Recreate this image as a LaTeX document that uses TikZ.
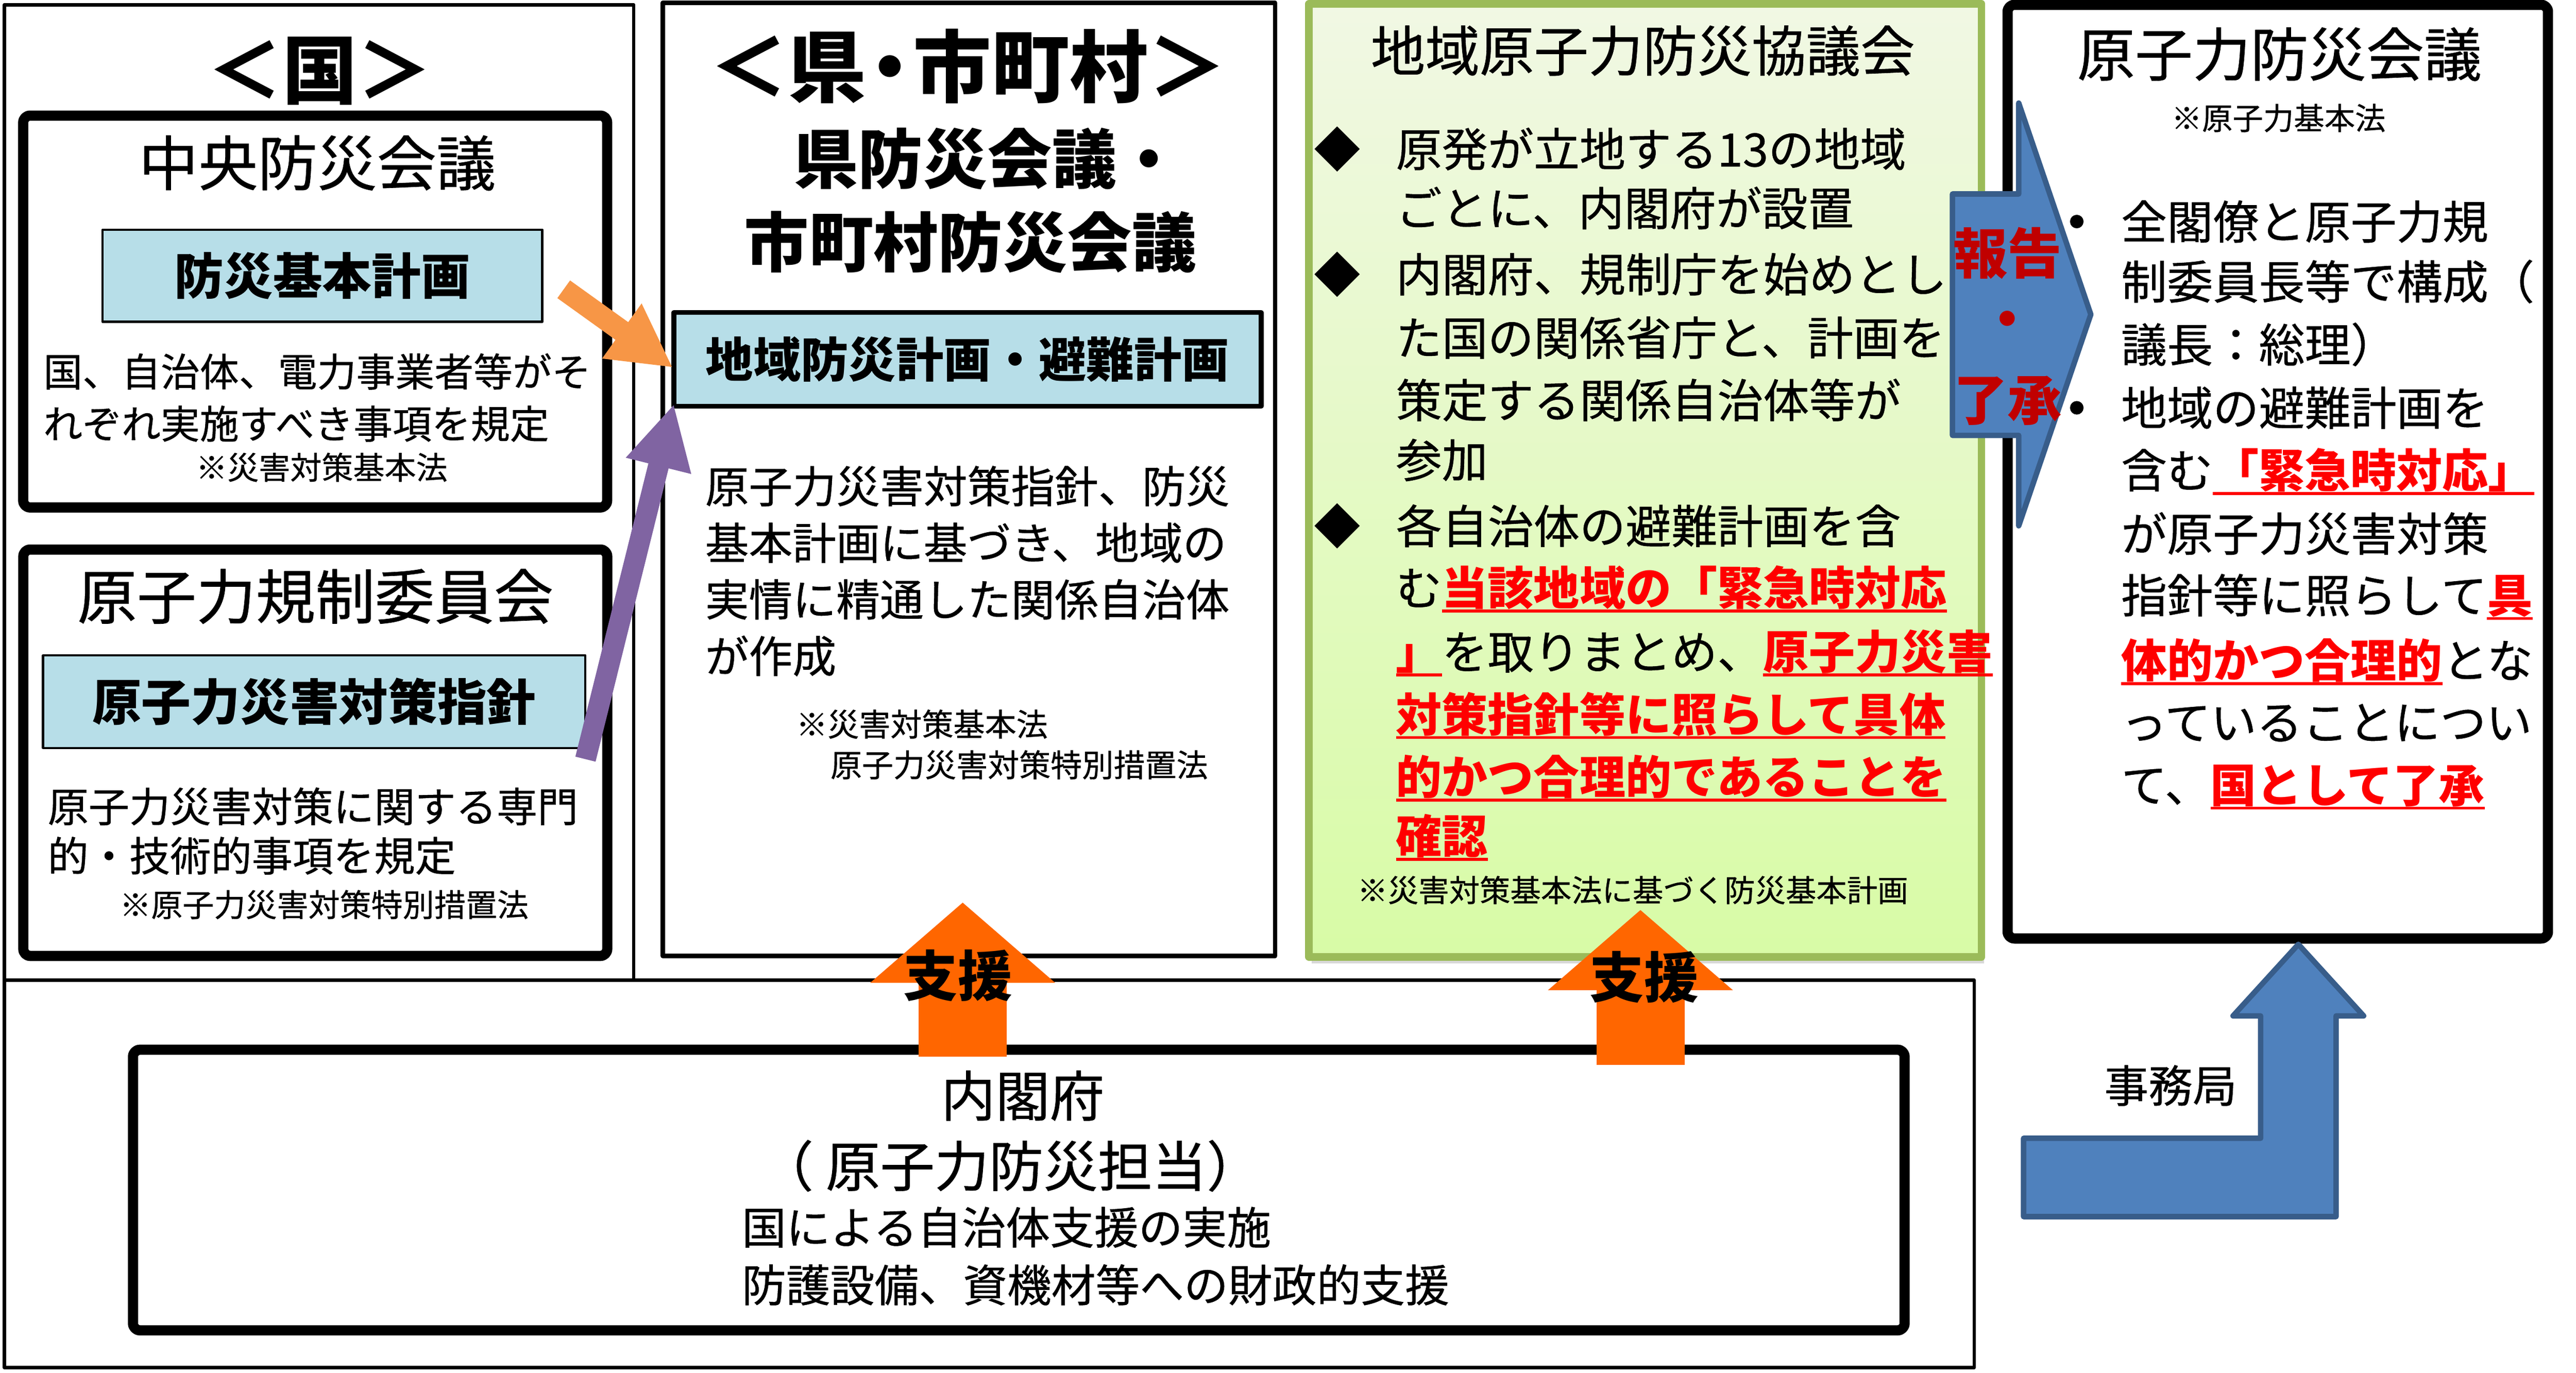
\documentclass[tikz,border=0pt]{standalone}
\usepackage{fontspec}
\setmainfont{Noto Sans CJK JP}[UprightFeatures={FakeBold=0.6}]
\usetikzlibrary{arrows.meta,calc,shadows}
\definecolor{planblue}{HTML}{B7DEE8}
\definecolor{kyogreen}{HTML}{9BBB59}
\definecolor{greentop}{HTML}{F1F8E4}
\definecolor{greenbot}{HTML}{D8FBA6}
\definecolor{arrowblue}{HTML}{4F81BD}
\definecolor{arrowedge}{HTML}{385D8A}
\definecolor{shienorange}{HTML}{FF6600}
\definecolor{planorange}{HTML}{F79646}
\definecolor{planpurple}{HTML}{8064A2}
\definecolor{keyred}{HTML}{FF0000}
\definecolor{reportred}{HTML}{C00000}
\newcommand\fsize[1]{\fontsize{#1}{#1}\selectfont}
\newcommand\redul[1]{\setbox0\hbox{#1}\rlap{\rule[-0.16em]{\wd0}{0.065em}}\box0}
\newcommand\key[1]{\textcolor{keyred}{\bfseries\redul{#1}}}
\begin{document}
\begin{tikzpicture}[x=1cm, y=-1cm, line join=round,
	frame/.style={draw, line width=2pt, inner sep=0pt},
	council/.style={draw, line width=6pt, rounded corners=4pt, inner sep=0pt},
	plan/.style={draw, fill=planblue, line width=1.3pt, font=\fsize{29}\bfseries},
	txt/.style={inner sep=0pt, anchor=west},
	ctr/.style={inner sep=0pt},
	shien/.style={shienorange, line width=1.82cm, -{Triangle[width=3.73cm,length=1.66cm]}},
	bluearrow/.style={fill=arrowblue, draw=arrowedge, line width=3.2pt}]
	\path[use as bounding box, fill=white] (0,0) rectangle (53.25,28.38);
	\node[frame, minimum width=13.01cm, minimum height=20.16cm] (kuni) at (6.595,10.18) {};
	\node[frame, minimum width=40.72cm, minimum height=8.01cm] (shienbox) at (20.45,24.265) {};
	\node[frame, line width=2.6pt, minimum width=12.66cm, minimum height=19.70cm] (ken) at (20.03,9.91) {};
	\node[draw=kyogreen, line width=4.5pt, top color=greentop, bottom color=greenbot,
		drop shadow={shadow xshift=0.05cm, shadow yshift=-0.14cm, opacity=0.3},
		minimum width=13.90cm, minimum height=19.70cm, inner sep=0pt] (kyogikai) at (34.01,9.93) {};
	\node[council, minimum width=12.07cm, minimum height=8.10cm] (chuo) at (6.515,6.44) {};
	\node[council, minimum width=12.07cm, minimum height=8.40cm] (kisei) at (6.5175,15.56) {};
	\node[council, minimum width=11.17cm, minimum height=19.30cm] (kaigi) at (47.085,9.75) {};
	\node[council, minimum width=36.62cm, minimum height=5.80cm] (naikaku) at (21.06,24.60) {};
	\node[plan, minimum width=9.09cm, minimum height=1.90cm] (kihon) at (6.665,5.70) {防災基本計画};
	\node[plan, minimum width=11.21cm, minimum height=1.91cm] (shishin) at (6.495,14.505) {原子力災害対策指針};
	\node[plan, line width=2.8pt, font=\fsize{28}\bfseries, minimum width=12.14cm, minimum height=1.94cm] (chiiki) at (20.00,7.43) {地域防災計画・避難計画};

	\draw[planorange, line width=0.45cm, -{Triangle[width=1.3cm,length=1.3cm]}] ($(kihon.east)+(0.42,0.28)$) -- ($(chiiki.west)+(0.03,0.17)$);
	\draw[planpurple, line width=0.43cm, -{Triangle[width=1.29cm,length=1.32cm]}] ($(shishin.south east)+(-0.02,0.21)$) -- ($(chiiki.south west)+(0.05,-0.10)$);
	\draw[shien] ($(naikaku.north -| ken.south)+(-0.13,0.25)$) -- ($(ken.south)+(-0.13,-1.15)$);
	\draw[shien] ($(naikaku.north -| kyogikai.south)+(-0.10,0.42)$) -- ($(kyogikai.south)+(-0.10,-1.05)$);
	\draw[bluearrow] (40.36,4.01) -- (41.73,4.01) -- (41.73,2.13) -- (43.22,6.50) -- (41.73,10.87) -- (41.73,9.00) -- (40.36,9.00) -- cycle;
	\draw[bluearrow] (47.51,19.52) -- (48.86,21.00) -- (48.29,21.00) -- (48.29,25.15) -- (41.83,25.15) -- (41.83,23.53) -- (46.73,23.53) -- (46.73,21.00) -- (46.16,21.00) -- cycle;

	\node[ctr, font=\fsize{44}\bfseries] (kuni-t) at (6.61,1.47) {＜国＞};
	\node[ctr, font=\fsize{35}] (chuo-t) at (6.56,3.37) {中央防災会議};
	\foreach \y/\t [count=\i] in {7.68/国、自治体、電力事業者等がそ, 8.76/れぞれ実施すべき事項を規定}
		\node[txt, font=\fsize{23}] (chuo-\i) at (0.89,\y) {\t};
	\node[ctr, font=\fsize{18.5}] (chuo-n) at (6.65,9.66) {※災害対策基本法};
	\node[ctr, font=\fsize{35}] (kisei-t) at (6.52,12.33) {原子力規制委員会};
	\foreach \y/\t [count=\i] in {16.67/原子力災害対策に関する専門, 17.69/的・技術的事項を規定}
		\node[txt, font=\fsize{24}] (kisei-\i) at (0.98,\y) {\t};
	\node[ctr, font=\fsize{18.5}] (kisei-n) at (6.70,18.70) {※原子力災害対策特別措置法};

	\node[ctr, font=\fsize{46}\bfseries] (ken-t) at (20.01,1.37) {＜県\kern-.2em・\kern-.2em市町村＞};
	\node[txt, font=\fsize{38}\bfseries] (ken-h1) at (16.40,3.28) {県防災会議・};
	\node[ctr, font=\fsize{38}\bfseries] (ken-h2) at (20.06,5.00) {市町村防災会議};
	\foreach \y/\t [count=\i] in {10.05/原子力災害対策指針、防災, 11.22/基本計画に基づき、地域の, 12.39/実情に精通した関係自治体, 13.56/が作成}
		\node[txt, font=\fsize{25.7}] (ken-\i) at (14.57,\y) {\t};
	\node[txt, font=\fsize{18.5}] (ken-n1) at (16.45,14.97) {※災害対策基本法};
	\node[txt, font=\fsize{18.5}] (ken-n2) at (17.16,15.81) {原子力災害対策特別措置法};

	\node[ctr, font=\fsize{32}] (kyogikai-t) at (33.96,1.05) {地域原子力防災協議会};
	\foreach \y [count=\i] in {3.08,5.67,10.87}
		\node[ctr, font=\fsize{27}] (kyogikai-b\i) at (27.64,\y) {◆};
	\foreach \y/\t [count=\i] in {3.08/原発が立地する13の地域, 4.30/ごとに、内閣府が設置,
		5.67/内閣府、規制庁を始めとし, 6.98/た国の関係省庁と、計画を, 8.27/策定する関係自治体等が, 9.51/参加,
		10.87/各自治体の避難計画を含, 12.18/{む\key{当該地域の「緊急時対応}}, 13.50/{\key{」}を取りまとめ、\key{原子力災害}},
		14.79/{\key{対策指針等に照らして具体}}, 16.09/{\key{的かつ合理的であることを}}, 17.31/{\key{確認}}}
		\node[txt, font=\fsize{27}] (kyogikai-\i) at (28.85,\y) {\t};
	\node[ctr, font=\fsize{18}] (kyogikai-n) at (33.75,18.40) {※災害対策基本法に基づく防災基本計画};

	\node[ctr, font=\fsize{34}] (kaigi-t) at (47.12,1.12) {原子力防災会議};
	\node[ctr, font=\fsize{18}] (kaigi-n) at (47.10,2.44) {※原子力基本法};
	\foreach \y [count=\i] in {4.58,8.43}
		\node[circle, fill, inner sep=0pt, minimum size=0.28cm] (kaigi-b\i) at (42.93,\y) {};
	\foreach \y/\t [count=\i] in {4.58/全閣僚と原子力規, 5.82/制委員長等で構成（, 7.12/議長：総理）, 8.43/地域の避難計画を,
		9.75/{含む\key{「緊急時対応」}}, 11.03/が原子力災害対策, 12.34/{指針等に照らして\key{具}},
		13.68/{\key{体的かつ合理的}とな}, 14.94/っていることについ, 16.27/{て、\key{国として了承}}}
		\node[txt, font=\fsize{27}] (kaigi-\i) at (43.84,\y) {\t};

	\foreach \y/\t [count=\i] in {5.23/報告, 6.72/・, 8.28/了承}
		\node[ctr, font=\fsize{32}\bfseries, text=reportred] (houkoku-\i) at (41.50,\y) {\t};
	\foreach \x/\y [count=\i] in {19.80/20.17, 33.99/20.20}
		\node[ctr, font=\fsize{32}\bfseries] (shien-\i) at (\x,\y) {支援};

	\node[ctr, font=\fsize{32}] (naikaku-t1) at (21.14,22.65) {内閣府};
	\node[ctr, font=\fsize{32}] (naikaku-t2) at (20.88,24.10) {（ 原子力防災担当）};
	\foreach \y/\t [count=\i] in {25.37/国による自治体支援の実施, 26.56/防護設備、資機材等への財政的支援}
		\node[txt, font=\fsize{26}] (naikaku-\i) at (15.33,\y) {\t};
	\node[ctr, font=\fsize{26}] (jimu) at (44.87,22.44) {事務局};
\end{tikzpicture}
\end{document}
